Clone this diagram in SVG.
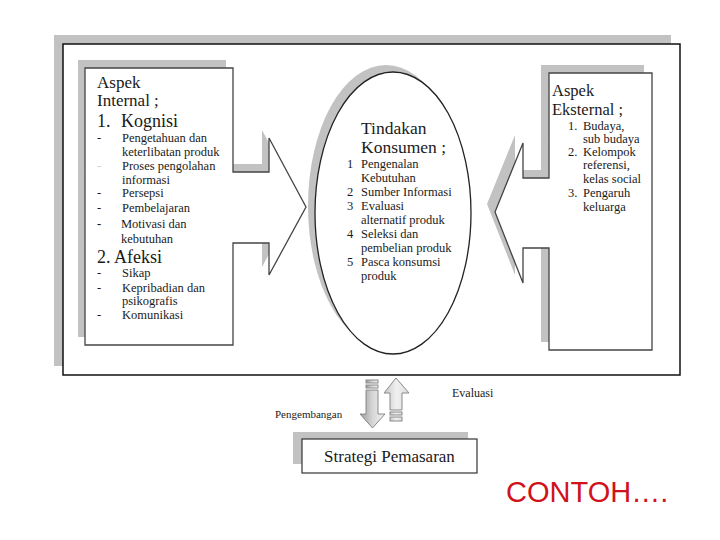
<svg xmlns="http://www.w3.org/2000/svg" width="720" height="540" viewBox="0 0 720 540">
<style>
.sh{fill:#c2c2c2;stroke:none}
.bx{fill:#fff;stroke:#444;stroke-width:1.3}
.t{font-family:"Liberation Serif","Times New Roman",serif;fill:#1a1a1a}
.h{font-size:17px}
.i{font-size:12.5px}
.s{font-size:11px}
.ar{stroke:#8a8a8a;stroke-width:1}
</style>
<defs>
<linearGradient id="gd" x1="0" y1="0" x2="1" y2="0">
<stop offset="0" stop-color="#9a9a9a"/><stop offset="0.5" stop-color="#d6d6d6"/><stop offset="1" stop-color="#f2f2f2"/>
</linearGradient>
<linearGradient id="gu" x1="0" y1="0" x2="1" y2="0">
<stop offset="0" stop-color="#c8c8c8"/><stop offset="0.5" stop-color="#f0f0f0"/><stop offset="1" stop-color="#dcdcdc"/>
</linearGradient>
</defs>
<rect width="720" height="540" fill="#fff"/>

<g id="frame">
<rect class="sh" x="54" y="35" width="617" height="331"/>
<rect x="63" y="44" width="617" height="331" fill="#fff" stroke="#111" stroke-width="1.5"/>
</g>

<g id="aspek-internal">
<path class="sh" transform="translate(-7,-8)" d="M85,68 H233 V172 H269 V138 L306,207 L269,275 V243 H233 V345 H85 Z"/>
<path class="bx" d="M85,68 H233 V172 H269 V138 L306,207 L269,275 V243 H233 V345 H85 Z"/>
<text class="t h" x="97" y="88">Aspek</text>
<text class="t h" x="97" y="106">Internal ;</text>
<text class="t" font-size="18" x="97" y="127">1.</text>
<text class="t" font-size="18" x="121" y="127">Kognisi</text>
<g class="t i">
<text x="97" y="142">-</text><text x="122" y="142">Pengetahuan dan</text>
<text x="122" y="156">keterlibatan produk</text>
<text x="97" y="170" fill="#d0d0d0">-</text><text x="122" y="170">Proses pengolahan</text>
<text x="122" y="184">informasi</text>
<text x="97" y="197">-</text><text x="122" y="197">Persepsi</text>
<text x="97" y="212">-</text><text x="122" y="212">Pembelajaran</text>
<text x="97" y="228" font-weight="bold">-</text><text x="121" y="228">Motivasi dan</text>
<text x="121" y="243">kebutuhan</text>
<text x="97" y="277">-</text><text x="122" y="277">Sikap</text>
<text x="97" y="292">-</text><text x="122" y="292">Kepribadian dan</text>
<text x="122" y="305">psikografis</text>
<text x="97" y="319">-</text><text x="122" y="319">Komunikasi</text>
</g>
<text class="t" font-size="18" x="97" y="263">2. Afeksi</text>
</g>

<g id="tindakan-konsumen">
<ellipse class="sh" cx="386" cy="206" rx="78" ry="141"/>
<ellipse cx="393" cy="213" rx="78" ry="141" fill="#fff" stroke="#222" stroke-width="1.3"/>
<text class="t" font-size="17.5" x="361" y="134">Tindakan</text>
<text class="t" font-size="17.5" x="361" y="153">Konsumen ;</text>
<g class="t i">
<text x="347" y="168">1</text><text x="361" y="168">Pengenalan</text>
<text x="361" y="182">Kebutuhan</text>
<text x="347" y="196">2</text><text x="361" y="196">Sumber Informasi</text>
<text x="347" y="210">3</text><text x="361" y="210">Evaluasi</text>
<text x="361" y="224">alternatif produk</text>
<text x="347" y="238">4</text><text x="361" y="238">Seleksi dan</text>
<text x="361" y="252">pembelian produk</text>
<text x="347" y="266">5</text><text x="361" y="266">Pasca konsumsi</text>
<text x="361" y="280">produk</text>
</g>
</g>

<g id="aspek-eksternal">
<path class="sh" transform="translate(-8,-8)" d="M549,73 H652 V350 H549 V248 H523 V283 L495,212 L523,143 V178 H549 Z"/>
<path class="bx" d="M549,73 H652 V350 H549 V248 H523 V283 L495,212 L523,143 V178 H549 Z"/>
<text class="t" font-size="16.5" x="552" y="96">Aspek</text>
<text class="t" font-size="16.5" x="552" y="115">Eksternal ;</text>
<g class="t i">
<text x="568" y="130">1.</text><text x="583" y="130">Budaya,</text>
<text x="583" y="143">sub budaya</text>
<text x="568" y="156">2.</text><text x="583" y="156">Kelompok</text>
<text x="583" y="169">referensi,</text>
<text x="583" y="183">kelas social</text>
<text x="568" y="197">3.</text><text x="583" y="197">Pengaruh</text>
<text x="583" y="211">keluarga</text>
</g>
</g>

<g id="connectors">
<g id="arrow-pengembangan">
<rect class="ar" x="366" y="380" width="12" height="3" fill="url(#gd)"/>
<rect class="ar" x="366" y="385" width="12" height="3" fill="url(#gd)"/>
<path class="ar" fill="url(#gd)" d="M366,390 H378 V414 H385 L372.5,428 L360,414 H366 Z"/>
</g>
<g id="arrow-evaluasi">
<path class="ar" fill="url(#gu)" d="M396,378 L409,393 H402 V410 H390 V393 H384 Z"/>
<rect class="ar" x="390" y="412" width="12" height="3" fill="url(#gu)"/>
<rect class="ar" x="390" y="417" width="12" height="4" fill="url(#gu)"/>
</g>
<text class="t s" x="275" y="418">Pengembangan</text>
<text class="t" font-size="12" x="452" y="397">Evaluasi</text>
</g>

<g id="strategi-pemasaran">
<rect class="sh" x="293" y="432" width="175" height="32"/>
<rect x="302" y="439" width="175" height="34" fill="#fff" stroke="#333" stroke-width="1.2"/>
<text class="t h" x="389.5" y="462" text-anchor="middle">Strategi Pemasaran</text>
</g>

<text x="506" y="502" font-family="Liberation Sans, Arial, sans-serif" font-size="29" fill="#d0121b">CONTOH….</text>
</svg>
